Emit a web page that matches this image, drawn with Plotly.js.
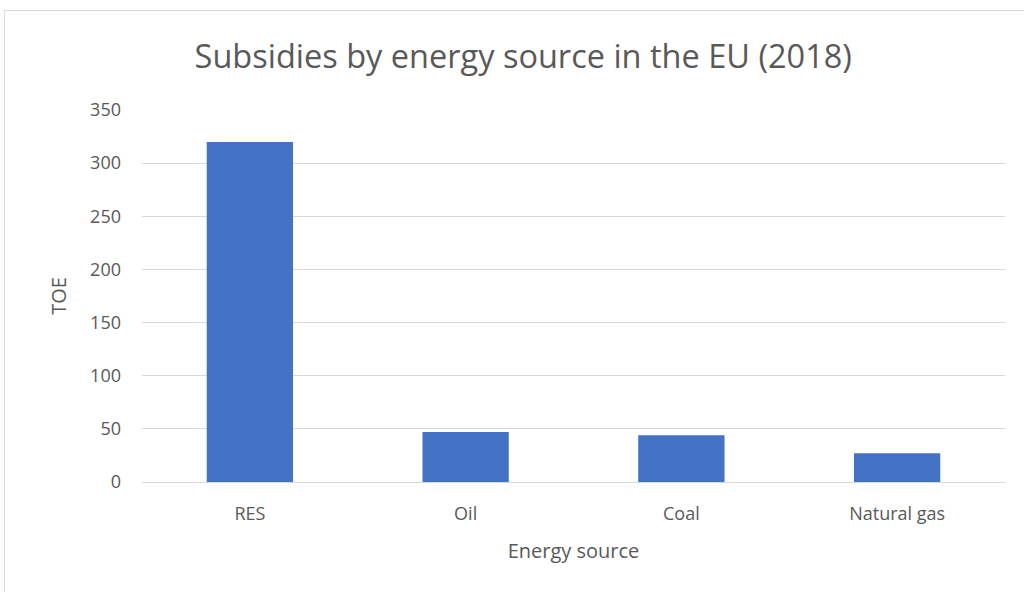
<!DOCTYPE html>
<html><head><meta charset="utf-8">
<script src="https://cdn.plot.ly/plotly-3.0.1.min.js"></script>
<style>
html,body{margin:0;padding:0;background:#fff;overflow:hidden;}
#frame{position:absolute;left:4px;top:10px;width:1040px;height:600px;border:1px solid #d9d9d9;}
#chart{position:absolute;left:0;top:0;width:1024px;height:592px;}
</style></head>
<body>
<div id="frame"></div>
<div id="chart"></div>
<script>
const categories = ["RES", "Oil", "Coal", "Natural gas"];
const values = [320, 47, 44, 27];
const yTicks = [0, 50, 100, 150, 200, 250, 300, 350];

const font = "Open Sans, Liberation Sans, sans-serif";
Plotly.newPlot("chart", [{
  type: "bar",
  x: categories,
  y: values,
  marker: {color: "#4472c4"},
  width: 0.4,
  hoverinfo: "none"
}], {
  width: 1024, height: 592,
  paper_bgcolor: "rgba(0,0,0,0)", plot_bgcolor: "rgba(0,0,0,0)",
  margin: {l: 142, r: 19, t: 110, b: 110},
  title: {text: "Subsidies by energy source in the EU (2018)", font: {family: font, size: 32.5, color: "#595959"}, x: 0.511, xanchor: "center", y: 0.905, yanchor: "middle"},
  xaxis: {
    title: {text: "Energy source", font: {family: font, size: 20, color: "#595959"}, standoff: 19},
    tickfont: {family: font, size: 18, color: "#595959"},
    ticklabelstandoff: 19,
    showline: false, ticks: "", showgrid: false
  },
  yaxis: {
    title: {text: "TOE", font: {family: font, size: 20, color: "#595959"}, standoff: 18},
    range: [0, 350], tickvals: yTicks,
    tickfont: {family: font, size: 18, color: "#595959"},
    ticklabelstandoff: 20,
    gridcolor: "#d9d9d9", gridwidth: 1, zeroline: true, zerolinecolor: "#d9d9d9", zerolinewidth: 1,
    ticks: "", ticklen: 0, showline: false
  },
  bargap: 0.6,
  showlegend: false
}, {displayModeBar: false, staticPlot: true});
</script>
</body></html>
